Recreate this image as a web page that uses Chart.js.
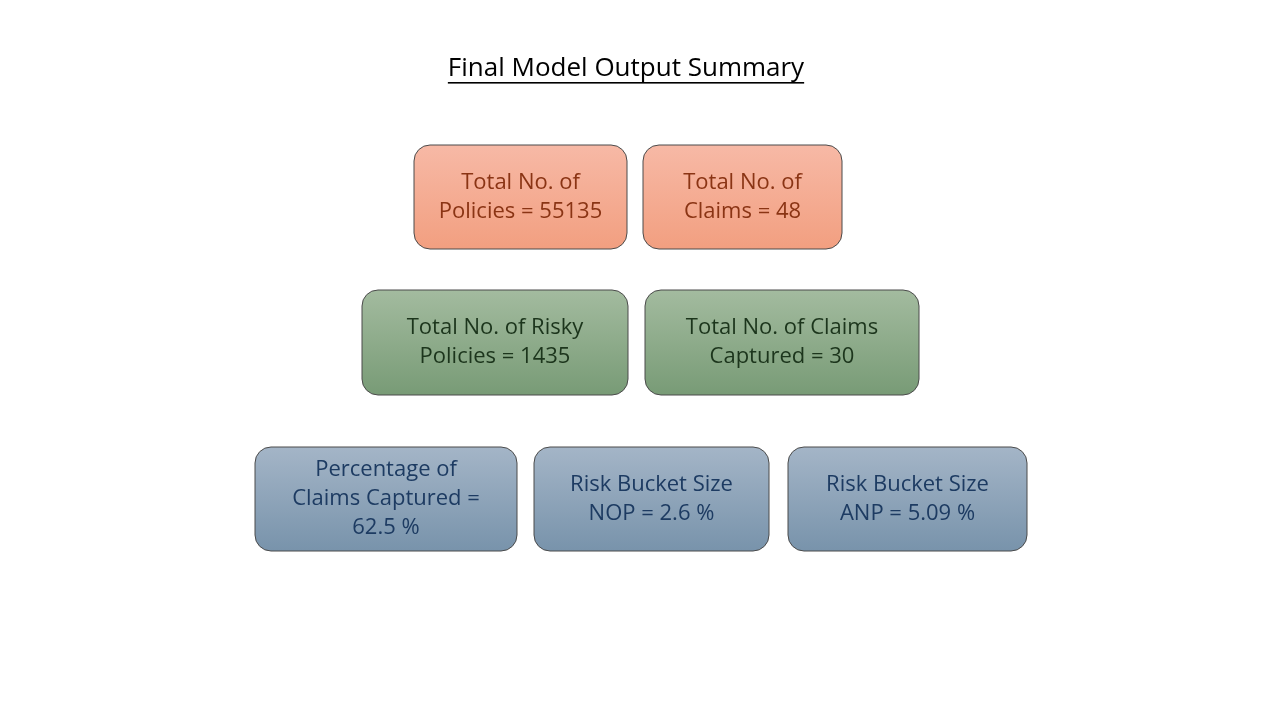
<!DOCTYPE html>
<html>
<head>
<meta charset="utf-8">
<script src="https://cdn.jsdelivr.net/npm/chart.js@4"></script>
<style>
  html, body { margin: 0; padding: 0; background: #fff; }
  #wrap { width: 1280px; height: 720px; }
</style>
</head>
<body>
<div id="wrap"><canvas id="c" width="1280" height="720"></canvas></div>
<script>
// Summary boxes: text lines and group (colour family)
const titleText = 'Final Model Output Summary';
const boxLines = [
  ['Total No. of', 'Policies = 55135'],
  ['Total No. of', 'Claims = 48'],
  ['Total No. of Risky', 'Policies = 1435'],
  ['Total No. of Claims', 'Captured = 30'],
  ['Percentage of', 'Claims Captured =', '62.5 %'],
  ['Risk Bucket Size', 'NOP = 2.6 %'],
  ['Risk Bucket Size', 'ANP = 5.09 %'],
];
const boxGroup = [0, 0, 1, 1, 2, 2, 2];
// box extents in the slide's own units (x from left, y from top)
const boxX0 = [414, 643, 362, 645, 255, 534, 788];
const boxX1 = [627, 842, 628, 919, 517, 769, 1027];
const boxY0 = [145, 145, 290, 290, 447, 447, 447];
const boxY1 = [249, 249, 395, 395, 551, 551, 551];

const groupTop = ['#f7b9a6', '#a3bb9f', '#a4b5c7'];
const groupBottom = ['#f29f80', '#789b76', '#7893ab'];
const groupText = ['#8a3414', '#1c351c', '#1d3b62'];

function roundRect(ctx, x, y, w, h, r) {
  ctx.beginPath();
  ctx.moveTo(x + r, y);
  ctx.arcTo(x + w, y, x + w, y + h, r);
  ctx.arcTo(x + w, y + h, x, y + h, r);
  ctx.arcTo(x, y + h, x, y, r);
  ctx.arcTo(x, y, x + w, y, r);
  ctx.closePath();
}

const boxesPlugin = {
  id: 'boxes',
  afterDatasetsDraw(chart) {
    const ctx = chart.ctx;
    const xs = chart.scales.x, ys = chart.scales.y;
    ctx.save();
    // title
    const tx = xs.getPixelForValue(626), ty = ys.getPixelForValue(69);
    ctx.font = '26px "Open Sans", Lato, sans-serif';
    ctx.fillStyle = '#000';
    ctx.textAlign = 'center';
    ctx.textBaseline = 'middle';
    ctx.fillText(titleText, tx, ty);
    const tw = ctx.measureText(titleText).width;
    ctx.fillRect(tx - tw / 2, ty + 13, tw, 1.6);

    boxLines.forEach(function (lines, i) {
      const g = boxGroup[i];
      const x0 = xs.getPixelForValue(boxX0[i]), x1 = xs.getPixelForValue(boxX1[i]);
      const y0 = ys.getPixelForValue(boxY0[i]), y1 = ys.getPixelForValue(boxY1[i]);
      const grad = ctx.createLinearGradient(0, y0, 0, y1);
      grad.addColorStop(0, groupTop[g]);
      grad.addColorStop(1, groupBottom[g]);
      roundRect(ctx, x0, y0, x1 - x0, y1 - y0, 16);
      ctx.fillStyle = grad;
      ctx.fill();
      ctx.strokeStyle = '#4a4a4a';
      ctx.lineWidth = 1;
      ctx.stroke();
      ctx.font = '22px "Open Sans", Lato, sans-serif';
      ctx.fillStyle = groupText[g];
      const lh = 29;
      const cy = (y0 + y1) / 2 - (lines.length - 1) * lh / 2;
      lines.forEach(function (t, k) {
        ctx.fillText(t, (x0 + x1) / 2, cy + k * lh);
      });
    });
    ctx.restore();
  }
};

new Chart(document.getElementById('c'), {
  type: 'scatter',
  data: { datasets: [{ data: [] }] },
  options: {
    responsive: false,
    animation: false,
    layout: { padding: 0 },
    plugins: { legend: { display: false }, tooltip: { enabled: false } },
    scales: {
      x: { type: 'linear', min: 0, max: 1280, display: false },
      y: { type: 'linear', min: 0, max: 720, reverse: true, display: false },
    },
  },
  plugins: [boxesPlugin],
});
</script>
</body>
</html>
